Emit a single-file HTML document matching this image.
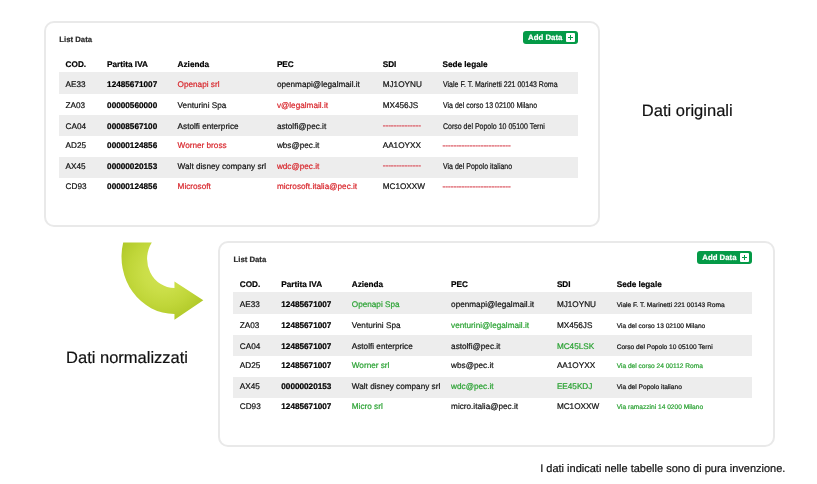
<!DOCTYPE html>
<html><head><meta charset="utf-8"><title>Dati originali / normalizzati</title>
<style>
html,body{margin:0;padding:0;background:#fff;text-rendering:geometricPrecision;}
body{width:817px;height:484px;position:relative;overflow:hidden;font-family:"Liberation Sans",Arial,sans-serif;}
#wrap{position:absolute;left:0;top:0;width:817px;height:484px;filter:blur(0.3px);}
.t,.big,.foot,.bt{-webkit-text-stroke:0.2px currentColor;}
.card{position:absolute;}
.card:before{content:"";position:absolute;left:0;top:0;right:0;bottom:0;box-sizing:border-box;border:2px solid #e9e9e9;border-radius:10px;}
.t{position:absolute;white-space:nowrap;color:#111111;}
.b{font-weight:bold;}
.row{position:absolute;background:#ededed;}
.btn{position:absolute;left:479.1px;top:9.8px;width:55.2px;height:13px;background:#049a47;border-radius:3px;}
.bt{position:absolute;left:5.0px;top:0.2px;font-size:7.8px;line-height:13px;font-weight:bold;color:#fff;white-space:nowrap;}
.plus{position:absolute;left:42.7px;top:2.1px;width:9px;height:9px;background:#fff;border-radius:1px;}
.plus:before{content:"";position:absolute;left:4px;top:2px;width:1px;height:5px;background:#049a47;}
.plus:after{content:"";position:absolute;left:2px;top:4px;width:5px;height:1px;background:#049a47;}
.arrow{position:absolute;left:0;top:0;}
.big{position:absolute;font-size:16.4px;line-height:16.4px;color:#111;white-space:nowrap;}
.foot{position:absolute;font-size:11px;line-height:11px;color:#111;white-space:nowrap;}
</style></head><body><div id="wrap">
<div class="card" style="left:44.0px;top:21.0px;width:556.4px;height:206.0px;">
<div class="t b" style="left:15.33px;top:14.54px;font-size:7.75px;line-height:7.75px;color:#2b2b2b;">List Data</div>
<div class="btn"><span class="bt">Add Data</span><span class="plus"></span></div>
<div class="row" style="left:15.0px;top:51.40px;width:519.2px;height:21.16px;"></div>
<div class="row" style="left:15.0px;top:93.72px;width:519.2px;height:21.16px;"></div>
<div class="row" style="left:15.0px;top:136.04px;width:519.2px;height:21.16px;"></div>
<div class="t b" style="left:21.60px;top:40.16px;font-size:8.2px;line-height:8.2px;color:#000;">COD.</div>
<div class="t b" style="left:63.10px;top:40.16px;font-size:8.2px;line-height:8.2px;color:#000;">Partita IVA</div>
<div class="t b" style="left:133.60px;top:40.16px;font-size:8.2px;line-height:8.2px;color:#000;">Azienda</div>
<div class="t b" style="left:232.90px;top:40.16px;font-size:8.2px;line-height:8.2px;color:#000;">PEC</div>
<div class="t b" style="left:338.70px;top:40.16px;font-size:8.2px;line-height:8.2px;color:#000;">SDI</div>
<div class="t b" style="left:398.50px;top:40.16px;font-size:8.2px;line-height:8.2px;color:#000;">Sede legale</div>
<div class="t" style="left:21.60px;top:60.16px;font-size:8.2px;line-height:8.2px;color:#111111;">AE33</div>
<div class="t b" style="left:63.10px;top:60.16px;font-size:8.2px;line-height:8.2px;color:#000;">12485671007</div>
<div class="t" style="left:133.60px;top:60.16px;font-size:8.2px;line-height:8.2px;color:#d8262c;">Openapi srl</div>
<div class="t" style="left:232.90px;top:60.16px;font-size:8.2px;line-height:8.2px;color:#111111;">openmapi@legalmail.it</div>
<div class="t" style="left:338.70px;top:60.16px;font-size:8.2px;line-height:8.2px;color:#111111;">MJ1OYNU</div>
<div class="t" style="left:398.50px;top:60.16px;font-size:8.2px;line-height:8.2px;color:#111111;transform:scaleX(0.855);transform-origin:0 0;">Viale F. T. Marinetti 221 00143 Roma</div>
<div class="t" style="left:21.60px;top:81.26px;font-size:8.2px;line-height:8.2px;color:#111111;">ZA03</div>
<div class="t b" style="left:63.10px;top:81.26px;font-size:8.2px;line-height:8.2px;color:#000;">00000560000</div>
<div class="t" style="left:133.60px;top:81.26px;font-size:8.2px;line-height:8.2px;color:#111111;">Venturini Spa</div>
<div class="t" style="left:232.90px;top:81.26px;font-size:8.2px;line-height:8.2px;color:#d8262c;">v@legalmail.it</div>
<div class="t" style="left:338.70px;top:81.26px;font-size:8.2px;line-height:8.2px;color:#111111;">MX456JS</div>
<div class="t" style="left:398.50px;top:81.26px;font-size:8.2px;line-height:8.2px;color:#111111;transform:scaleX(0.855);transform-origin:0 0;">Via del corso 13 02100 Milano</div>
<div class="t" style="left:21.60px;top:101.66px;font-size:8.2px;line-height:8.2px;color:#111111;">CA04</div>
<div class="t b" style="left:63.10px;top:101.66px;font-size:8.2px;line-height:8.2px;color:#000;">00008567100</div>
<div class="t" style="left:133.60px;top:101.66px;font-size:8.2px;line-height:8.2px;color:#111111;">Astolfi enterprice</div>
<div class="t" style="left:232.90px;top:101.66px;font-size:8.2px;line-height:8.2px;color:#111111;">astolfi@pec.it</div>
<div class="t b" style="left:338.70px;top:100.76px;font-size:8.2px;line-height:8.2px;color:#dc5f68;">--------------</div>
<div class="t" style="left:398.50px;top:101.66px;font-size:8.2px;line-height:8.2px;color:#111111;transform:scaleX(0.855);transform-origin:0 0;">Corso del Popolo 10 05100 Terni</div>
<div class="t" style="left:21.60px;top:121.06px;font-size:8.2px;line-height:8.2px;color:#111111;">AD25</div>
<div class="t b" style="left:63.10px;top:121.06px;font-size:8.2px;line-height:8.2px;color:#000;">00000124856</div>
<div class="t" style="left:133.60px;top:121.06px;font-size:8.2px;line-height:8.2px;color:#d8262c;">Worner bross</div>
<div class="t" style="left:232.90px;top:121.06px;font-size:8.2px;line-height:8.2px;color:#111111;">wbs@pec.it</div>
<div class="t" style="left:338.70px;top:121.06px;font-size:8.2px;line-height:8.2px;color:#111111;">AA1OYXX</div>
<div class="t b" style="left:398.50px;top:121.06px;font-size:8.2px;line-height:8.2px;color:#dc5f68;">-------------------------</div>
<div class="t" style="left:21.60px;top:141.56px;font-size:8.2px;line-height:8.2px;color:#111111;">AX45</div>
<div class="t b" style="left:63.10px;top:141.56px;font-size:8.2px;line-height:8.2px;color:#000;">00000020153</div>
<div class="t" style="left:133.60px;top:141.56px;font-size:8.2px;line-height:8.2px;color:#111111;">Walt disney company srl</div>
<div class="t" style="left:232.90px;top:141.56px;font-size:8.2px;line-height:8.2px;color:#d8262c;">wdc@pec.it</div>
<div class="t b" style="left:338.70px;top:140.66px;font-size:8.2px;line-height:8.2px;color:#dc5f68;">--------------</div>
<div class="t" style="left:398.50px;top:141.56px;font-size:8.2px;line-height:8.2px;color:#111111;transform:scaleX(0.855);transform-origin:0 0;">Via del Popolo italiano</div>
<div class="t" style="left:21.60px;top:161.96px;font-size:8.2px;line-height:8.2px;color:#111111;">CD93</div>
<div class="t b" style="left:63.10px;top:161.96px;font-size:8.2px;line-height:8.2px;color:#000;">00000124856</div>
<div class="t" style="left:133.60px;top:161.96px;font-size:8.2px;line-height:8.2px;color:#d8262c;">Microsoft</div>
<div class="t" style="left:232.90px;top:161.96px;font-size:8.2px;line-height:8.2px;color:#d8262c;">microsoft.italia@pec.it</div>
<div class="t" style="left:338.70px;top:161.96px;font-size:8.2px;line-height:8.2px;color:#111111;">MC1OXXW</div>
<div class="t b" style="left:398.50px;top:161.96px;font-size:8.2px;line-height:8.2px;color:#dc5f68;">-------------------------</div>
</div>
<div class="card" style="left:218.2px;top:241.0px;width:556.4px;height:206.0px;">
<div class="t b" style="left:15.33px;top:14.54px;font-size:7.75px;line-height:7.75px;color:#2b2b2b;">List Data</div>
<div class="btn"><span class="bt">Add Data</span><span class="plus"></span></div>
<div class="row" style="left:15.0px;top:51.40px;width:519.2px;height:21.16px;"></div>
<div class="row" style="left:15.0px;top:93.72px;width:519.2px;height:21.16px;"></div>
<div class="row" style="left:15.0px;top:136.04px;width:519.2px;height:21.16px;"></div>
<div class="t b" style="left:21.60px;top:40.16px;font-size:8.2px;line-height:8.2px;color:#000;">COD.</div>
<div class="t b" style="left:63.10px;top:40.16px;font-size:8.2px;line-height:8.2px;color:#000;">Partita IVA</div>
<div class="t b" style="left:133.60px;top:40.16px;font-size:8.2px;line-height:8.2px;color:#000;">Azienda</div>
<div class="t b" style="left:232.90px;top:40.16px;font-size:8.2px;line-height:8.2px;color:#000;">PEC</div>
<div class="t b" style="left:338.70px;top:40.16px;font-size:8.2px;line-height:8.2px;color:#000;">SDI</div>
<div class="t b" style="left:398.50px;top:40.16px;font-size:8.2px;line-height:8.2px;color:#000;">Sede legale</div>
<div class="t" style="left:21.60px;top:60.16px;font-size:8.2px;line-height:8.2px;color:#111111;">AE33</div>
<div class="t b" style="left:63.10px;top:60.16px;font-size:8.2px;line-height:8.2px;color:#000;">12485671007</div>
<div class="t" style="left:133.60px;top:60.16px;font-size:8.2px;line-height:8.2px;color:#2aa233;">Openapi Spa</div>
<div class="t" style="left:232.90px;top:60.16px;font-size:8.2px;line-height:8.2px;color:#111111;">openmapi@legalmail.it</div>
<div class="t" style="left:338.70px;top:60.16px;font-size:8.2px;line-height:8.2px;color:#111111;">MJ1OYNU</div>
<div class="t" style="left:398.50px;top:62.21px;font-size:6.6px;line-height:6.6px;color:#111111;">Viale F. T. Marinetti 221 00143 Roma</div>
<div class="t" style="left:21.60px;top:81.26px;font-size:8.2px;line-height:8.2px;color:#111111;">ZA03</div>
<div class="t b" style="left:63.10px;top:81.26px;font-size:8.2px;line-height:8.2px;color:#000;">12485671007</div>
<div class="t" style="left:133.60px;top:81.26px;font-size:8.2px;line-height:8.2px;color:#111111;">Venturini Spa</div>
<div class="t" style="left:232.90px;top:81.26px;font-size:8.2px;line-height:8.2px;color:#2aa233;">venturini@legalmail.it</div>
<div class="t" style="left:338.70px;top:81.26px;font-size:8.2px;line-height:8.2px;color:#111111;">MX456JS</div>
<div class="t" style="left:398.50px;top:83.31px;font-size:6.6px;line-height:6.6px;color:#111111;">Via del corso 13 02100 Milano</div>
<div class="t" style="left:21.60px;top:101.66px;font-size:8.2px;line-height:8.2px;color:#111111;">CA04</div>
<div class="t b" style="left:63.10px;top:101.66px;font-size:8.2px;line-height:8.2px;color:#000;">12485671007</div>
<div class="t" style="left:133.60px;top:101.66px;font-size:8.2px;line-height:8.2px;color:#111111;">Astolfi enterprice</div>
<div class="t" style="left:232.90px;top:101.66px;font-size:8.2px;line-height:8.2px;color:#111111;">astolfi@pec.it</div>
<div class="t" style="left:338.70px;top:101.66px;font-size:8.2px;line-height:8.2px;color:#2aa233;">MC45LSK</div>
<div class="t" style="left:398.50px;top:103.71px;font-size:6.6px;line-height:6.6px;color:#111111;">Corso del Popolo 10 05100 Terni</div>
<div class="t" style="left:21.60px;top:121.06px;font-size:8.2px;line-height:8.2px;color:#111111;">AD25</div>
<div class="t b" style="left:63.10px;top:121.06px;font-size:8.2px;line-height:8.2px;color:#000;">12485671007</div>
<div class="t" style="left:133.60px;top:121.06px;font-size:8.2px;line-height:8.2px;color:#2aa233;">Worner srl</div>
<div class="t" style="left:232.90px;top:121.06px;font-size:8.2px;line-height:8.2px;color:#111111;">wbs@pec.it</div>
<div class="t" style="left:338.70px;top:121.06px;font-size:8.2px;line-height:8.2px;color:#111111;">AA1OYXX</div>
<div class="t" style="left:398.50px;top:123.11px;font-size:6.6px;line-height:6.6px;color:#2aa233;">Via del corso 24 00112 Roma</div>
<div class="t" style="left:21.60px;top:141.56px;font-size:8.2px;line-height:8.2px;color:#111111;">AX45</div>
<div class="t b" style="left:63.10px;top:141.56px;font-size:8.2px;line-height:8.2px;color:#000;">00000020153</div>
<div class="t" style="left:133.60px;top:141.56px;font-size:8.2px;line-height:8.2px;color:#111111;">Walt disney company srl</div>
<div class="t" style="left:232.90px;top:141.56px;font-size:8.2px;line-height:8.2px;color:#2aa233;">wdc@pec.it</div>
<div class="t" style="left:338.70px;top:141.56px;font-size:8.2px;line-height:8.2px;color:#2aa233;">EE45KDJ</div>
<div class="t" style="left:398.50px;top:143.61px;font-size:6.6px;line-height:6.6px;color:#111111;">Via del Popolo italiano</div>
<div class="t" style="left:21.60px;top:161.96px;font-size:8.2px;line-height:8.2px;color:#111111;">CD93</div>
<div class="t b" style="left:63.10px;top:161.96px;font-size:8.2px;line-height:8.2px;color:#000;">12485671007</div>
<div class="t" style="left:133.60px;top:161.96px;font-size:8.2px;line-height:8.2px;color:#2aa233;">Micro srl</div>
<div class="t" style="left:232.90px;top:161.96px;font-size:8.2px;line-height:8.2px;color:#111111;">micro.italia@pec.it</div>
<div class="t" style="left:338.70px;top:161.96px;font-size:8.2px;line-height:8.2px;color:#111111;">MC1OXXW</div>
<div class="t" style="left:398.50px;top:164.01px;font-size:6.6px;line-height:6.6px;color:#2aa233;">Via ramazzini 14 0200 Milano</div>
</div>
<svg class="arrow" width="817" height="484" viewBox="0 0 817 484">
<defs>
<radialGradient id="ag" cx="163" cy="272" r="56" gradientUnits="userSpaceOnUse">
<stop offset="0" stop-color="#d2e355"/>
<stop offset="0.35" stop-color="#cade47"/>
<stop offset="0.6" stop-color="#c0d639"/>
<stop offset="0.85" stop-color="#b2ca2a"/>
<stop offset="1" stop-color="#a8c11f"/>
</radialGradient>
</defs>
<path d="M123.2 242.46 L151.8 242.46 A27.5 29.2 0 0 0 174.45 288.0 L174.45 281.4 L203.3 300.2 L174.45 319.8 L174.45 314.0 A53 57.2 0 0 1 123.2 242.46 Z" fill="url(#ag)"/>
</svg>
<div class="big" style="left:641.85px;top:103.33px;font-size:16.5px;line-height:16.5px;">Dati originali</div>
<div class="big" style="left:66.05px;top:350.33px;font-size:16.5px;line-height:16.5px;">Dati normalizzati</div>
<div class="foot" style="left:540.19px;top:463.89px;">I dati indicati nelle tabelle sono di pura invenzione.</div>
</div></body></html>
